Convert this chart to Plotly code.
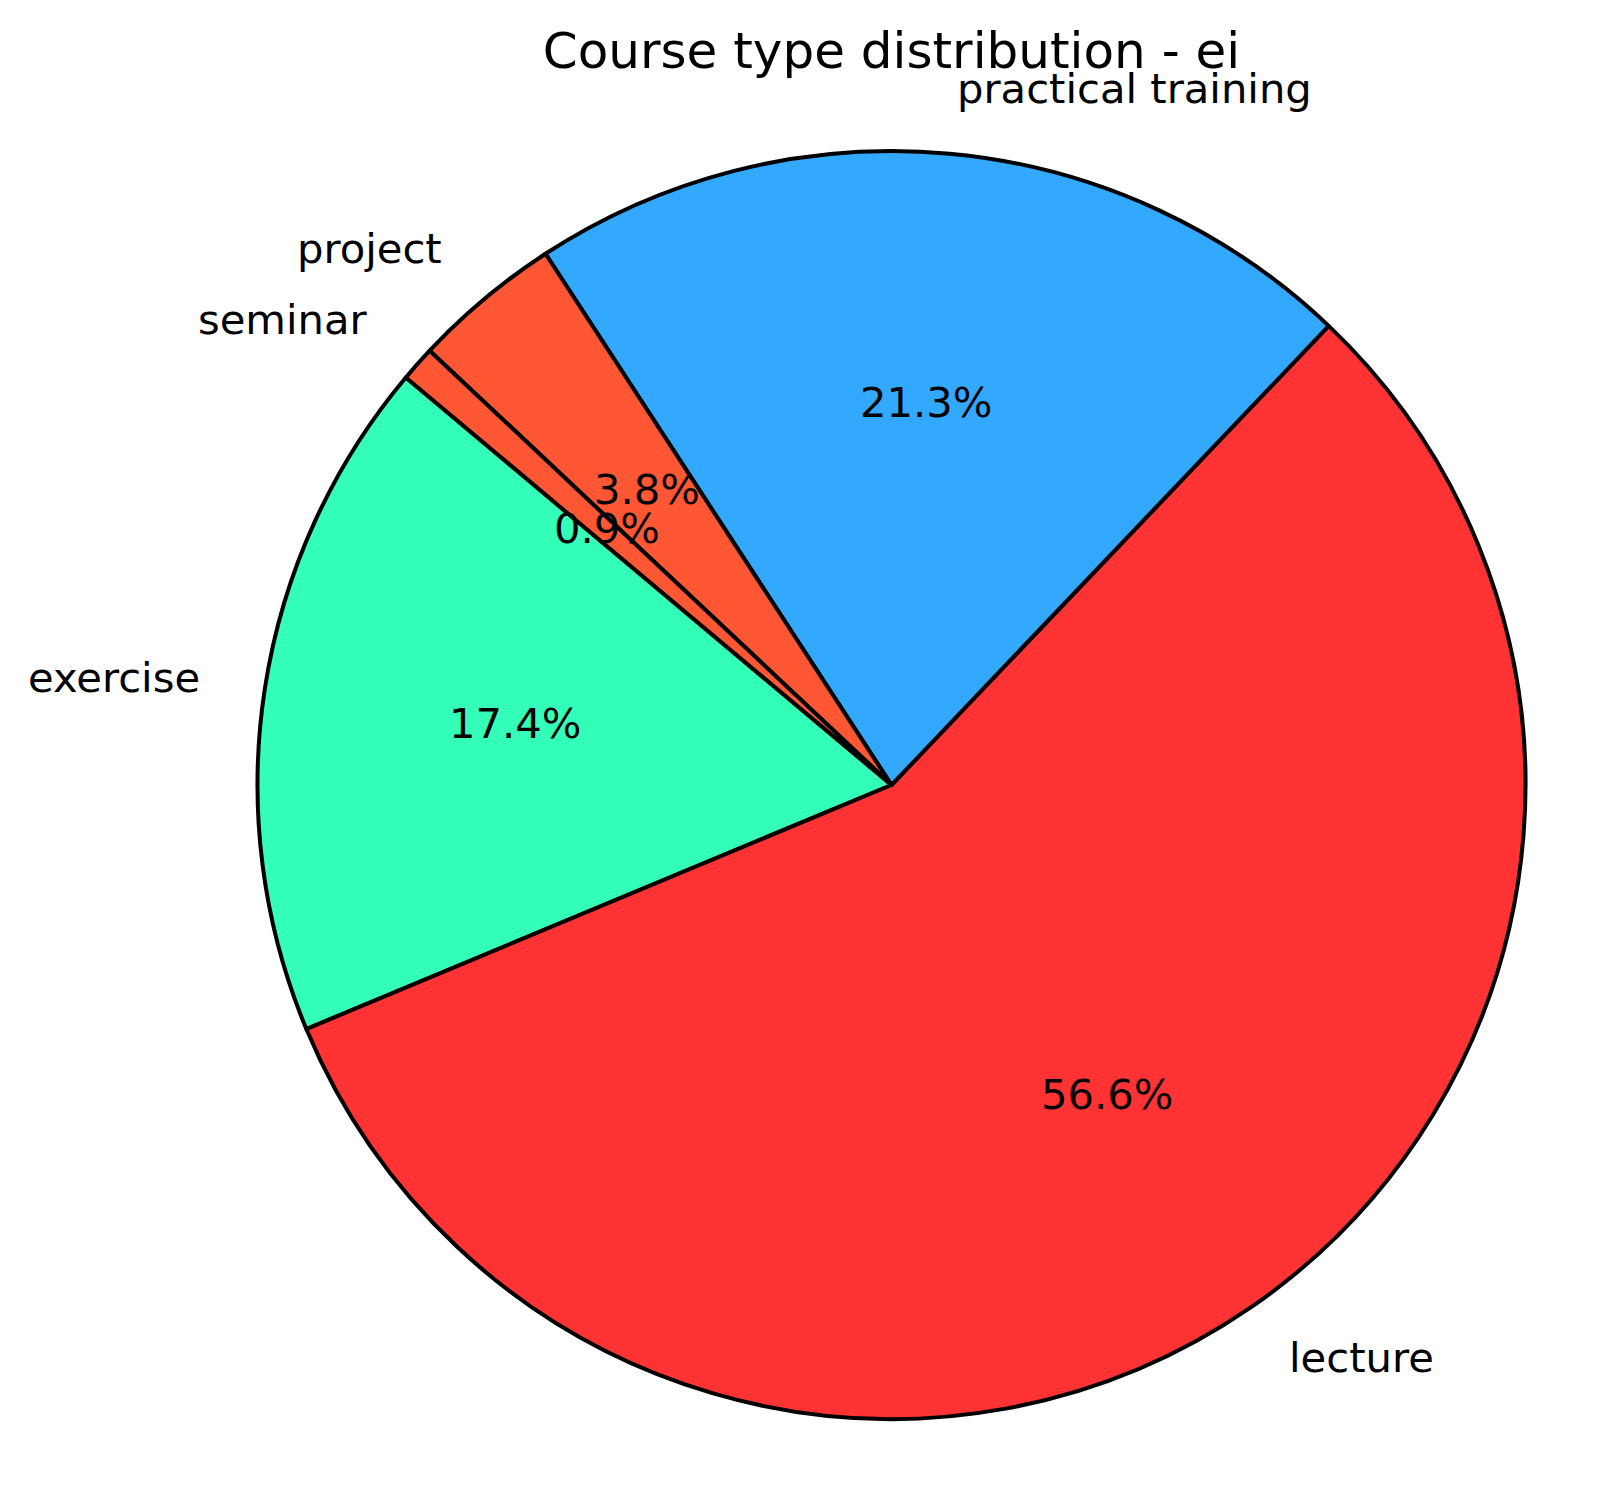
import math
import plotly.graph_objects as go

# Data (order as drawn, counterclockwise from start angle)
categories = ["exercise", "lecture", "practical training", "project", "seminar"]
percentages = [17.4, 56.6, 21.3, 3.8, 0.9]
colors = ["#33FFB8", "#FF3333", "#33A8FF", "#FF5733", "#FF5733"]
title_text = "Course type distribution - ei"

W, H = 1619, 1509
OFF = 8  # page body margin compensation
ML, MR, MT, MB = 257 - OFF, 93 + OFF, 151 - OFF, 90 + OFF
START_ANGLE = 140  # degrees, math convention (start of first slice)

total = sum(percentages)
# plotly: with counterclockwise direction, first slice ends at the rotation point
rotation = -(START_ANGLE - 90) - 360.0 * percentages[0] / total

fig = go.Figure()
fig.add_trace(go.Pie(
    labels=categories,
    values=percentages,
    marker=dict(colors=colors, line=dict(color="black", width=4)),
    sort=False,
    direction="counterclockwise",
    rotation=rotation,
    textinfo="none",
    hoverinfo="label+percent",
    showlegend=False,
))

pw = W - ML - MR
ph = H - MT - MB
R = min(pw, ph) / 2.0
font = "DejaVu Sans"
annotations = []
cum = 0.0
for lab, v in zip(categories, percentages):
    mid = math.radians(START_ANGLE + 360.0 * (cum + v / 2.0) / total)
    cum += v
    c, s = math.cos(mid), math.sin(mid)
    # outer label at 1.1 r
    annotations.append(dict(
        x=0.5 + 1.1 * R * c / pw, y=0.5 + 1.1 * R * s / ph,
        xref="paper", yref="paper", text=lab, showarrow=False,
        xanchor="left" if c > 0 else "right", yanchor="middle", yshift=2,
        font=dict(family=font, size=41.7, color="black"),
    ))
    # percentage at 0.6 r
    annotations.append(dict(
        x=0.5 + 0.6 * R * c / pw, y=0.5 + 0.6 * R * s / ph,
        xref="paper", yref="paper", text="%.1f%%" % (100.0 * v / total), showarrow=False,
        xanchor="center", yanchor="middle", yshift=4,
        font=dict(family=font, size=41.7, color="black"),
    ))

fig.update_layout(
    width=W, height=H,
    margin=dict(l=ML, r=MR, t=MT, b=MB),
    paper_bgcolor="white", plot_bgcolor="white",
    title=dict(text=title_text, x=(ML + pw / 2) / W, xanchor="center",
               y=1 - (50 - OFF) / H, yanchor="middle", yref="container",
               font=dict(family=font, size=50, color="black")),
    annotations=annotations,
)

fig.write_html("out.html")
